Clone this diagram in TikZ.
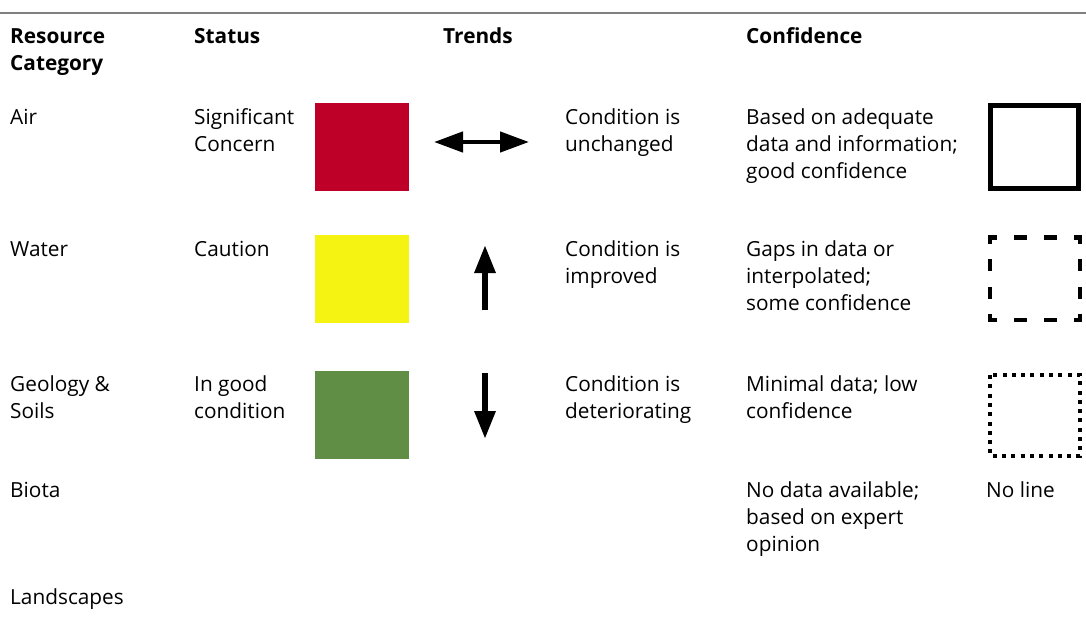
\documentclass[tikz,border=0pt]{standalone}
\usepackage{fontspec}
\setmainfont{Open Sans}
\usepackage{tikz}
\usetikzlibrary{arrows.meta}
\definecolor{statusred}{RGB}{190,0,40}
\definecolor{statusyellow}{RGB}{245,243,18}
\definecolor{statusgreen}{RGB}{96,142,69}
\definecolor{rulegray}{RGB}{128,128,128}

\begin{document}
\begin{tikzpicture}[x=1pt, y=-1pt,
  lbl/.style={anchor=base west, inner sep=0pt, align=left, font=\fontsize{20.8}{27}\selectfont},
  head/.style={lbl, font=\fontsize{20.8}{27}\selectfont\bfseries},
  swatch/.style={minimum width=94pt, minimum height=88pt, inner sep=0pt},
  trend/.style={line width=6pt, -{Triangle[length=28pt,width=20pt]}},
  confbox/.style={line width=4.5pt}]
\useasboundingbox (0,0) rectangle (1086,616);
\draw[rulegray, line width=1.8pt] (0,13) -- (1086,13);

% headers (base = last line)
\node[head] (hres) at (10,70) {Resource\\Category};
\node[head] (hstat) at (194,43) {Status};
\node[head] (htrend) at (443,43) {Trends};
\node[head] (hconf) at (746,43) {Confidence};

% resource categories
\node[lbl] (air) at (10,124) {Air};
\node[lbl] (water) at (10,256) {Water};
\node[lbl] (geo) at (10,418) {Geology \&\\Soils};
\node[lbl] (biota) at (10,497) {Biota};
\node[lbl] (land) at (10,604) {Landscapes};

% status
\node[lbl] (sig) at (194,151) {Significant\\Concern};
\node[lbl] (caut) at (194,256) {Caution};
\node[lbl] (good) at (194,418) {In good\\condition};
\node[swatch, fill=statusred] (red) at (362,147) {};
\node[swatch, fill=statusyellow] (yellow) at (362,279) {};
\node[swatch, fill=statusgreen] (green) at (362,415) {};

% trends
\coordinate (sameL) at (434,142);
\coordinate (sameR) at (529,142);
\coordinate (upB) at (485,310);
\coordinate (upT) at (485,245);
\coordinate (downT) at (485,373);
\coordinate (downB) at (485,439);
\draw[line width=4.5pt, {Triangle[length=29pt,width=20pt]}-{Triangle[length=29pt,width=20pt]}] (sameL) -- (sameR);
\draw[trend] (upB) -- (upT);
\draw[trend] (downT) -- (downB);
\node[lbl] (unch) at (565,151) {Condition is\\unchanged};
\node[lbl] (impr) at (565,283) {Condition is\\improved};
\node[lbl] (det) at (565,418) {Condition is\\deteriorating};

% confidence
\node[lbl] (adeq) at (746,178) {Based on adequate\\data and information;\\good confidence};
\node[lbl] (gaps) at (746,310) {Gaps in data or\\interpolated;\\some confidence};
\node[lbl] (mini) at (746,418) {Minimal data; low\\confidence};
\node[lbl] (nodata) at (746,551) {No data available;\\based on expert\\opinion};
\node[lbl] (noline) at (986,497) {No line};
\draw[confbox, line width=5pt] (990.5,105.5) rectangle (1078.5,188.5);
% dashed box: one pattern per pair of sides so every corner gets a piece
\coordinate (dTL) at (990,237.5);
\coordinate (dTR) at (1080,237.5);
\coordinate (dBL) at (990,320);
\coordinate (dBR) at (1080,320);
\draw[confbox, line cap=rect, dash pattern=on 8.5pt off 21.5pt, dash phase=4.25pt] (dTL) -- (dTR) (dBL) -- (dBR);
\draw[confbox, line cap=rect, dash pattern=on 7.5pt off 20pt, dash phase=3.75pt] (dTL) -- (dBL) (dTR) -- (dBR);
\draw[confbox, dash pattern=on 4pt off 5.3pt] (990,375) rectangle (1080,456);
\end{tikzpicture}
\end{document}
